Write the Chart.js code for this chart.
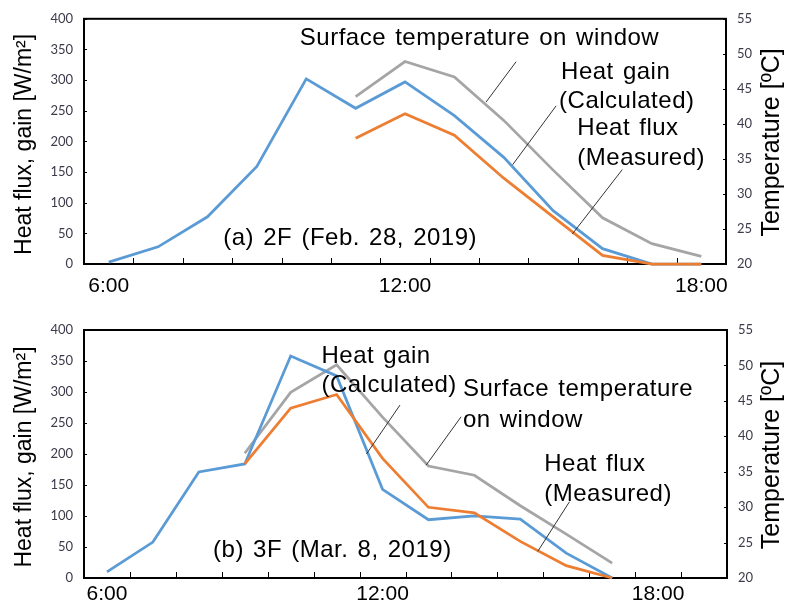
<!DOCTYPE html>
<html>
<head>
<meta charset="utf-8">
<script src="https://cdn.jsdelivr.net/npm/chart.js@4"></script>
<style>
  body { margin: 0; background: #fff; }
  .box { width: 790px; height: 306px; }
</style>
</head>
<body>
<div class="box"><canvas id="chart2F" width="790" height="306"></canvas></div>
<div class="box"><canvas id="chart3F" width="790" height="306"></canvas></div>
<script>
// hours on the x axis
const hours2F = ['6:00','7:00','8:00','9:00','10:00','11:00','12:00','13:00','14:00','15:00','16:00','17:00','18:00'];
const hours3F = ['6:00','7:00','8:00','9:00','10:00','11:00','12:00','13:00','14:00','15:00','16:00','17:00','18:00','19:00'];
const shownHours = ['6:00', '12:00', '18:00'];

// (a) 2F, Feb. 28, 2019
const blue2F = [3, 28, 77, 159, 302, 254, 297, 242, 174, 87, 25, 0, 0];
const orange2F = [null, null, null, null, null, 205, 245, 210, 140, 77, 14, 0, 0];
const grey2F = [null, null, null, null, null, 43.9, 48.9, 46.7, 40.5, 33.4, 26.6, 22.9, 21.1];

// (b) 3F, Mar. 8, 2019
const blue3F = [10, 58, 171, 184, 358, 326, 143, 94, 100, 95, 40, 0, null, null];
const orange3F = [null, null, null, 184, 274, 296, 193, 114, 105, 59, 20, 0, null, null];
const grey3F = [null, null, null, 37.6, 46.2, 50.1, 42.7, 35.8, 34.5, 30.2, 26.2, 22.1, null, null];

// annotation texts and leader lines, in data units (x = hour index, y = W/m2)
const notes2F = [
  { text: 'Surface temperature on window', x: 3.87, y: 357 },
  { text: 'Heat gain', x: 9.16, y: 302 },
  { text: '(Calculated)', x: 9.12, y: 254 },
  { text: 'Heat flux', x: 9.49, y: 210 },
  { text: '(Measured)', x: 9.49, y: 162 },
  { text: '(a) 2F (Feb. 28, 2019)', x: 2.32, y: 31 }
];
const leaders2F = [
  [8.25, 330, 7.64, 264],
  [9.06, 258, 8.18, 162],
  [10.4, 154, 9.39, 49]
];
const notes3F = [
  { text: 'Heat gain', x: 4.67, y: 347 },
  { text: '(Calculated)', x: 4.67, y: 300 },
  { text: 'Surface temperature', x: 7.75, y: 294 },
  { text: 'on window', x: 7.75, y: 243 },
  { text: 'Heat flux', x: 9.52, y: 172 },
  { text: '(Measured)', x: 9.52, y: 124 },
  { text: '(b) 3F (Mar. 8, 2019)', x: 2.31, y: 34 }
];
const leaders3F = [
  [6.38, 279, 5.65, 200],
  [7.71, 260, 6.95, 182],
  [10.07, 123, 9.38, 43]
];

const BLUE = '#5B9BD5', ORANGE = '#ED7D31', GREY = '#A5A5A5';
const SANS = '"Liberation Sans", Arial, sans-serif';

// plot frame and inward tick marks, drawn under the lines
const frame = {
  id: 'frame',
  beforeDatasetsDraw(chart) {
    const { ctx, chartArea: a, scales: { x, y, y2 } } = chart;
    ctx.save();
    ctx.strokeStyle = '#000';
    ctx.lineWidth = 1;
    ctx.beginPath();
    for (let i = 1; i < x.getLabels().length; i++) {
      const px = Math.round(x.getPixelForValue(i - 0.5)) + 0.5;
      ctx.moveTo(px, a.bottom); ctx.lineTo(px, a.bottom - 6);
    }
    y.ticks.forEach(t => {
      const py = Math.round(y.getPixelForValue(t.value)) + 0.5;
      ctx.moveTo(a.left, py); ctx.lineTo(a.left + 3, py);
    });
    y2.ticks.forEach(t => {
      const py = Math.round(y2.getPixelForValue(t.value)) + 0.5;
      ctx.moveTo(a.right, py); ctx.lineTo(a.right - 3, py);
    });
    ctx.stroke();
    ctx.lineWidth = 2;
    ctx.strokeRect(a.left, a.top, a.right - a.left, a.bottom - a.top);

    // axis titles
    const mid = (a.top + a.bottom) / 2;
    ctx.fillStyle = '#000';
    ctx.textAlign = 'center';
    ctx.textBaseline = 'middle';
    ctx.font = '23px ' + SANS;
    ctx.save();
    ctx.translate(25, mid + 3);
    ctx.rotate(-Math.PI / 2);
    ctx.fillText('Heat flux, gain [W/m\u00B2]', 0, 0);
    ctx.restore();
    ctx.font = '25px ' + SANS;
    ctx.translate(772, mid + 1);
    ctx.rotate(-Math.PI / 2);
    ctx.fillText('Temperature [\u00BAC]', 0, 0);
    ctx.restore();
  }
};

// callouts on top of the lines
const callouts = {
  id: 'callouts',
  afterDatasetsDraw(chart, args, opts) {
    const { ctx, scales: { x, y } } = chart;
    ctx.save();
    ctx.strokeStyle = '#333';
    ctx.lineWidth = 1;
    opts.leaders.forEach(l => {
      ctx.beginPath();
      ctx.moveTo(x.getPixelForValue(l[0]), y.getPixelForValue(l[1]));
      ctx.lineTo(x.getPixelForValue(l[2]), y.getPixelForValue(l[3]));
      ctx.stroke();
    });
    ctx.fillStyle = '#000';
    ctx.font = '24px ' + SANS;
    ctx.letterSpacing = '0.5px';
    ctx.wordSpacing = '2px';
    ctx.textAlign = 'left';
    ctx.textBaseline = 'alphabetic';
    opts.notes.forEach(n => ctx.fillText(n.text, x.getPixelForValue(n.x), y.getPixelForValue(n.y)));
    ctx.restore();
  }
};

function makeChart(id, labels, blue, orange, grey, notes, leaders, layout) {
  return new Chart(document.getElementById(id), {
    type: 'line',
    data: {
      labels: labels,
      datasets: [
        { label: 'Heat gain (orange)', data: orange, borderColor: ORANGE, yAxisID: 'y' },
        { label: 'Heat flux (blue)', data: blue, borderColor: BLUE, yAxisID: 'y' },
        { label: 'Surface temperature', data: grey, borderColor: GREY, yAxisID: 'y2' }
      ]
    },
    options: {
      responsive: false,
      animation: false,
      layout: { padding: { top: layout.top, left: 0, right: 0, bottom: 0 } },
      elements: {
        line: { borderWidth: 2.75, tension: 0, fill: false },
        point: { radius: 0 }
      },
      datasets: { line: { clip: false, spanGaps: false } },
      plugins: {
        legend: { display: false },
        tooltip: { enabled: false },
        callouts: { notes: notes, leaders: leaders }
      },
      scales: {
        x: {
          type: 'category',
          offset: true,
          grid: { display: false, drawTicks: false, offset: true },
          border: { display: false },
          ticks: {
            autoSkip: false,
            maxRotation: 0,
            padding: layout.xPad,
            color: '#000',
            font: { family: SANS, size: 21 },
            callback(v) {
              const l = this.getLabelForValue(v);
              return shownHours.includes(l) ? l : '';
            }
          },
          afterFit(s) { s.height = layout.xHeight; }
        },
        y: {
          position: 'left',
          min: 0, max: 400,
          grid: { display: false, drawTicks: false },
          border: { display: false },
          ticks: { stepSize: 50, padding: 11, color: '#3b3b4a', font: { family: 'Lato', size: 13 } },
          afterFit(s) { s.width = 84; }
        },
        y2: {
          position: 'right',
          min: 20, max: 55,
          grid: { display: false, drawTicks: false },
          border: { display: false },
          ticks: { stepSize: 5, padding: 11, color: '#3b3b4a', font: { family: 'Lato', size: 13 } },
          afterFit(s) { s.width = layout.rightWidth; }
        }
      }
    },
    plugins: [frame, callouts]
  });
}

makeChart('chart2F', hours2F, blue2F, orange2F, grey2F, notes2F, leaders2F,
  { top: 15, xHeight: 42, xPad: 10, rightWidth: 64 });
makeChart('chart3F', hours3F, blue3F, orange3F, grey3F, notes3F, leaders3F,
  { top: 24, xHeight: 34, xPad: 4, rightWidth: 63 });
</script>
</body>
</html>
